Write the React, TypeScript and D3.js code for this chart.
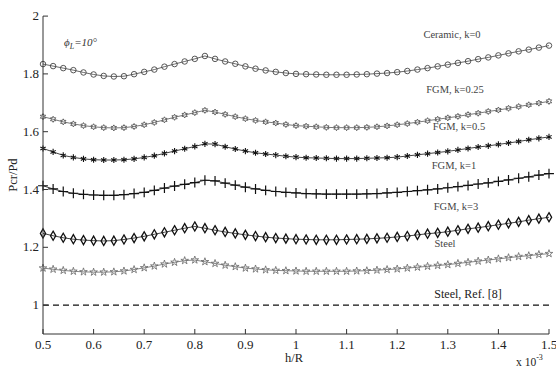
import React from "react";
import * as d3 from "d3";

const hr = [
  0.5, 0.52, 0.54, 0.56, 0.58, 0.6, 0.62, 0.64, 0.66, 0.68, 0.7, 0.72, 0.74,
  0.76, 0.78, 0.8, 0.82, 0.84, 0.86, 0.88, 0.9, 0.92, 0.94, 0.96, 0.98, 1.0,
  1.02, 1.04, 1.06, 1.08, 1.1, 1.12, 1.14, 1.16, 1.18, 1.2, 1.22, 1.24, 1.26,
  1.28, 1.3, 1.32, 1.34, 1.36, 1.38, 1.4, 1.42, 1.44, 1.46, 1.48, 1.5,
];

const ceramic = [
  1.834, 1.827, 1.82, 1.813, 1.805, 1.798, 1.793, 1.791, 1.792, 1.799, 1.807,
  1.815, 1.825, 1.834, 1.843, 1.852, 1.862, 1.852, 1.843, 1.835, 1.826, 1.818,
  1.812, 1.807, 1.803, 1.8, 1.799, 1.798, 1.797, 1.797, 1.797, 1.798, 1.799,
  1.801, 1.803, 1.806, 1.81, 1.815, 1.82, 1.826, 1.832, 1.838, 1.844, 1.851,
  1.857, 1.864, 1.871, 1.878, 1.884, 1.891, 1.898,
];
const fgm025 = [
  1.652, 1.643, 1.634, 1.627, 1.621, 1.617, 1.614, 1.613, 1.614, 1.618, 1.624,
  1.632, 1.641, 1.65, 1.658, 1.666, 1.674, 1.668, 1.66, 1.652, 1.645, 1.639,
  1.634, 1.63, 1.625, 1.621, 1.619, 1.617, 1.615, 1.614, 1.614, 1.614, 1.615,
  1.617, 1.62, 1.624, 1.628, 1.633, 1.638, 1.643, 1.648, 1.653, 1.659, 1.664,
  1.67, 1.675, 1.681, 1.687, 1.693, 1.699, 1.705,
];
const fgm05 = [
  1.542, 1.53, 1.518, 1.511, 1.506, 1.503, 1.502, 1.502, 1.503, 1.506, 1.511,
  1.517, 1.525, 1.533, 1.541, 1.549, 1.558, 1.557, 1.548, 1.54, 1.533, 1.527,
  1.523, 1.519, 1.515, 1.512, 1.51, 1.509, 1.508, 1.507, 1.507, 1.507, 1.508,
  1.509, 1.51, 1.512, 1.516, 1.52, 1.524, 1.528, 1.532, 1.537, 1.542, 1.547,
  1.551, 1.556, 1.561, 1.566, 1.572, 1.577, 1.582,
];
const fgm1 = [
  1.413, 1.402, 1.393, 1.387, 1.383, 1.381, 1.38, 1.38, 1.382, 1.386, 1.39,
  1.397, 1.405, 1.412, 1.418, 1.424, 1.432, 1.43, 1.422, 1.415, 1.408, 1.402,
  1.397, 1.393, 1.39, 1.388, 1.386, 1.385, 1.384, 1.384, 1.384, 1.384, 1.385,
  1.386, 1.388, 1.39, 1.393, 1.396, 1.399, 1.402, 1.406, 1.41, 1.414, 1.419,
  1.423, 1.428, 1.433, 1.439, 1.444, 1.45, 1.455,
];
const fgm3 = [
  1.248, 1.24, 1.233, 1.228, 1.225, 1.223, 1.222, 1.223, 1.227, 1.232, 1.238,
  1.245, 1.252, 1.259, 1.266, 1.272, 1.266, 1.259, 1.253, 1.248, 1.243, 1.239,
  1.235, 1.232, 1.23, 1.228, 1.227, 1.226, 1.226, 1.226, 1.227, 1.228, 1.229,
  1.231, 1.233, 1.236, 1.239, 1.243, 1.247, 1.25, 1.254, 1.259, 1.264, 1.268,
  1.273, 1.278, 1.283, 1.288, 1.294, 1.299, 1.304,
];
const steel = [
  1.128, 1.124, 1.12, 1.117, 1.115, 1.114, 1.114, 1.115, 1.118, 1.123, 1.129,
  1.135, 1.142, 1.148, 1.154, 1.156, 1.15, 1.144, 1.138, 1.133, 1.128, 1.125,
  1.122, 1.12, 1.119, 1.118, 1.117, 1.117, 1.117, 1.117, 1.117, 1.118, 1.119,
  1.121, 1.123, 1.125, 1.128, 1.131, 1.134, 1.137, 1.14, 1.144, 1.148, 1.152,
  1.156, 1.16, 1.164, 1.168, 1.171, 1.175, 1.178,
];
const refX = [0.5, 1.5];
const refSteel = [1, 1];

const xTicks = [0.5, 0.6, 0.7, 0.8, 0.9, 1, 1.1, 1.2, 1.3, 1.4, 1.5];
const yTicks = [1, 1.2, 1.4, 1.6, 1.8, 2];

// six point star, like matlab's 'h' marker
const hexagram = {
  draw(ctx: any, size: number) {
    const R = Math.sqrt(size) * 0.62;
    const r = R * 0.55;
    for (let i = 0; i < 12; i++) {
      const a = (i * Math.PI) / 6 - Math.PI / 2;
      const rr = i % 2 === 0 ? R : r;
      const px = rr * Math.cos(a);
      const py = rr * Math.sin(a);
      if (i === 0) ctx.moveTo(px, py);
      else ctx.lineTo(px, py);
    }
    ctx.closePath();
  },
};

const W = 556;
const H = 371;
const margin = { top: 16, right: 7, bottom: 37, left: 43 };

const x = d3
  .scaleLinear()
  .domain([0.5, 1.5])
  .range([margin.left, W - margin.right]);
const y = d3
  .scaleLinear()
  .domain([0.9, 2])
  .range([H - margin.bottom, H - margin.bottom - 1.1 * 289]);

const series = [
  { name: "Ceramic, k=0", values: ceramic, symbol: d3.symbolCircle, size: 24, stroke: "#444", width: 0.9, lx: 452, ly: 38 },
  { name: "FGM, k=0.25", values: fgm025, symbol: hexagram, size: 24, stroke: "#555", width: 0.9, lx: 455, ly: 93 },
  { name: "FGM, k=0.5", values: fgm05, symbol: d3.symbolAsterisk, size: 26, stroke: "#111", width: 1.1, lx: 459, ly: 130 },
  { name: "FGM, k=1", values: fgm1, symbol: d3.symbolPlus, size: 34, stroke: "#111", width: 1.2, lx: 454, ly: 169 },
  { name: "FGM, k=3", values: fgm3, symbol: d3.symbolDiamond, size: 24, stroke: "#111", width: 1.3, lx: 456, ly: 210 },
  { name: "Steel", values: steel, symbol: d3.symbolStar, size: 18, stroke: "#666", width: 0.8, lx: 445, ly: 247 },
];

const line = d3
  .line<number>()
  .x((_, i) => x(hr[i]))
  .y((d) => y(d));

const refLine = d3
  .line<number>()
  .x((_, i) => x(refX[i]))
  .y((d) => y(d));

const serif = "'Liberation Serif', 'Times New Roman', 'DejaVu Serif', serif";

export default function App() {
  const x0 = margin.left;
  const yb = H - margin.bottom;
  return (
    <svg
      width={W}
      height={H}
      style={{ position: "absolute", left: 0, top: 0, background: "#fff", fontFamily: serif }}
    >
      {/* curves */}
      {series.map((s) => {
        const sym = d3.symbol().type(s.symbol as any).size(s.size)();
        return (
          <g key={s.name}>
            <path d={line(s.values) || ""} fill="none" stroke={s.stroke} strokeWidth={0.8} />
            {s.values.map((v, i) => (
              <path
                key={i}
                d={sym || ""}
                transform={`translate(${x(hr[i])},${y(v)})`}
                fill="none"
                stroke={s.stroke}
                strokeWidth={s.width}
              />
            ))}
            <text x={s.lx} y={s.ly} fontSize={10.5} textAnchor="middle" fill="#444" style={{ fontFamily: serif }}>
              {s.name}
            </text>
          </g>
        );
      })}
      <path
        d={refLine(refSteel) || ""}
        fill="none"
        stroke="#111"
        strokeWidth={1.3}
        strokeDasharray="6,4"
      />
      <text x={468} y={298} fontSize={12} textAnchor="middle" fill="#222" style={{ fontFamily: serif }}>
        Steel, Ref. [8]
      </text>

      {/* axes */}
      <line x1={x0} x2={x0} y1={y(2)} y2={yb} stroke="#333" strokeWidth={1} />
      <line x1={x0} x2={x(1.5)} y1={yb} y2={yb} stroke="#333" strokeWidth={1} />
      {yTicks.map((t) => (
        <g key={t}>
          <line x1={x0} x2={x0 + 5} y1={y(t)} y2={y(t)} stroke="#333" />
          <text x={x0 - 4} y={y(t) + 4} fontSize={13} textAnchor="end" fill="#222" style={{ fontFamily: serif }}>
            {String(+t.toFixed(1))}
          </text>
        </g>
      ))}
      {xTicks.map((t) => (
        <g key={t}>
          <line x1={x(t)} x2={x(t)} y1={yb} y2={yb - 5} stroke="#333" />
          <text x={x(t)} y={yb + 15} fontSize={13} textAnchor="middle" fill="#222" style={{ fontFamily: serif }}>
            {String(+t.toFixed(1))}
          </text>
        </g>
      ))}
      <text x={294} y={362} fontSize={12.5} textAnchor="middle" fill="#222" style={{ fontFamily: serif }}>
        h/R
      </text>
      <text x={516} y={366} fontSize={11.5} fill="#222" style={{ fontFamily: serif }}>
        x 10
        <tspan dy={-6} fontSize={8}>
          -3
        </tspan>
      </text>
      <text
        transform={`translate(17,${(y(2) + yb) / 2}) rotate(-90)`}
        fontSize={12.5}
        textAnchor="middle"
        fill="#222"
        style={{ fontFamily: serif }}
      >
        Pcr/Pd
      </text>
      <text x={64} y={46} fontSize={11} fontStyle="italic" fill="#333" style={{ fontFamily: serif }}>
        ϕ
        <tspan dy={3} fontSize={8}>
          L
        </tspan>
        <tspan dy={-3}>=10°</tspan>
      </text>
    </svg>
  );
}
